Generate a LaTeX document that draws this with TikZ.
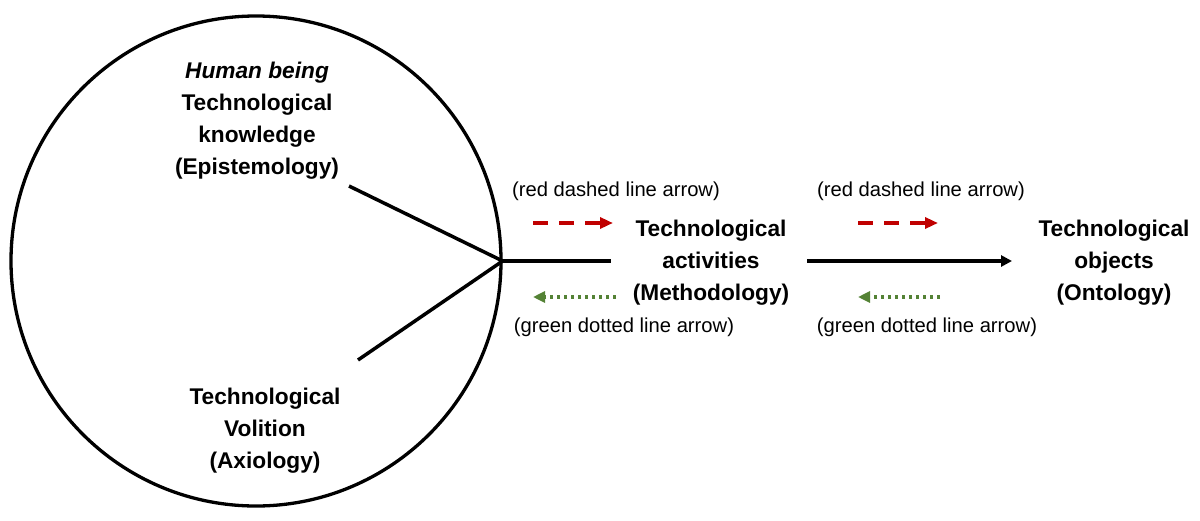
\documentclass[tikz,border=0pt]{standalone}
\usepackage{fontspec}
\setmainfont{Liberation Sans}
\usetikzlibrary{arrows.meta}
\definecolor{myred}{RGB}{192,0,0}
\definecolor{mygreen}{RGB}{84,130,53}
\begin{document}
\begin{tikzpicture}[x=1pt,y=-1pt,
  big/.style={font=\fontsize{22.7}{32}\selectfont\bfseries, align=center, inner sep=0pt},
  small/.style={font=\fontsize{20.2}{24}\selectfont, inner sep=0pt},
  blackline/.style={line width=3.5pt, line join=miter},
  redarrow/.style={draw=myred, line width=3.5pt, dash pattern=on 15pt off 11pt, -{Triangle[length=13pt,width=11pt]}},
  greenarrow/.style={draw=mygreen, line width=3.5pt, dash pattern=on 3.5pt off 3.5pt, -{Triangle[length=12pt,width=11pt]}},
  mainarrow/.style={line width=3.3pt, -{Triangle[length=11pt,width=11pt]}}]
\useasboundingbox (0,0) rectangle (1200,520);
\node[circle, draw, line width=3.3pt, minimum size=490pt, inner sep=0pt] (c) at (256,261) {};
\node[big] (know) at (257,121) {\textit{Human being}\\Technological\\knowledge\\(Epistemology)};
\node[big] (vol) at (265,431) {Technological\\Volition\\(Axiology)};
\node[big] (act) at (711,263) {Technological\\activities\\(Methodology)};
\node[big] (obj) at (1114,263) {Technological\\objects\\(Ontology)};
\node[small] (r1) at (616,191) {(red dashed line arrow)};
\node[small] (r2) at (921,191) {(red dashed line arrow)};
\node[small] (g1) at (624,327) {(green dotted line arrow)};
\node[small] (g2) at (927,327) {(green dotted line arrow)};
\coordinate (v) at (c.east);
\coordinate (e1) at (349,186);
\coordinate (e2) at (358,360);
\coordinate (h) at (611,261);
\draw[blackline] (e1) -- (v) -- (e2);
\draw[blackline] (v) -- (h);
\coordinate (m1) at (807,261);
\coordinate (m2) at (1012,261);
\draw[mainarrow] (m1) -- (m2);
\coordinate (ra1) at (533,223);
\coordinate (rb1) at (613,223);
\coordinate (ra2) at (858,223);
\coordinate (rb2) at (938,223);
\draw[redarrow] (ra1) -- (rb1);
\draw[redarrow] (ra2) -- (rb2);
\coordinate (ga1) at (616,297);
\coordinate (gb1) at (533,297);
\coordinate (ga2) at (940,297);
\coordinate (gb2) at (858,297);
\draw[greenarrow] (ga1) -- (gb1);
\draw[greenarrow] (ga2) -- (gb2);
\end{tikzpicture}
\end{document}
